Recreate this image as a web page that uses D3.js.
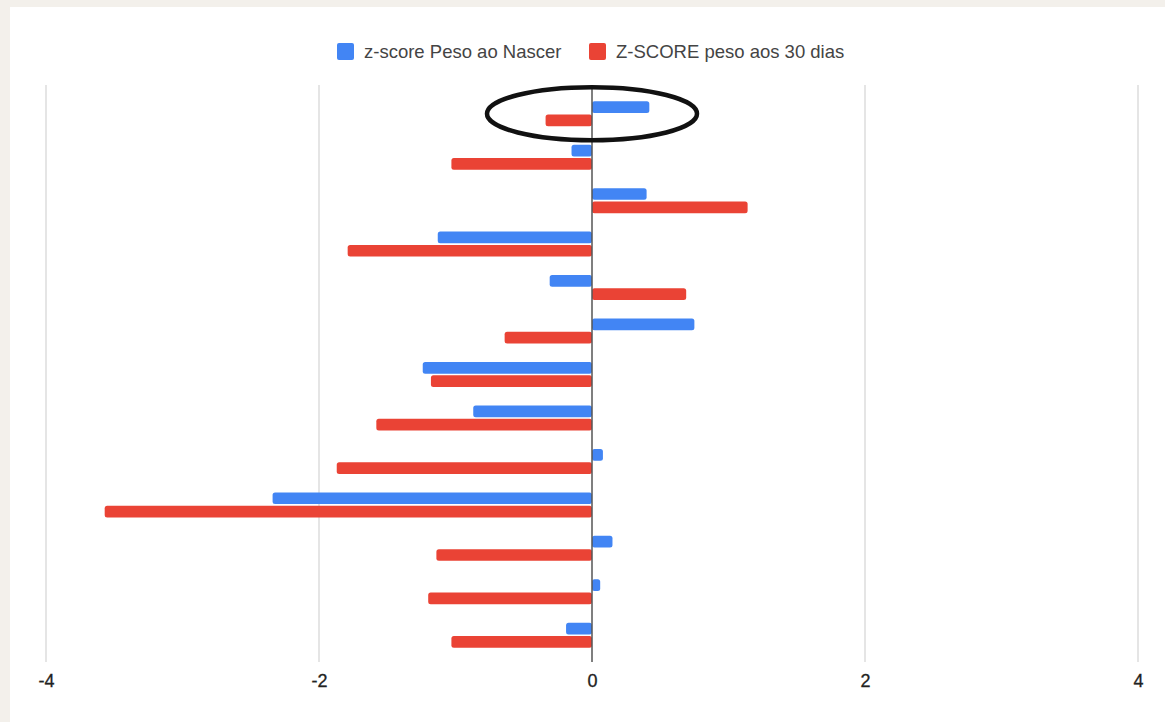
<!DOCTYPE html>
<html>
<head>
<meta charset="utf-8">
<script src="https://cdn.jsdelivr.net/npm/d3@7"></script>
<style>
  html, body { margin: 0; padding: 0; background: #f3f0eb; }
  svg { display: block; }
</style>
</head>
<body>
<svg id="chart" width="1165" height="722"></svg>
<script>
// Babies, one row each
const categories = ["1", "2", "3", "4", "5", "6", "7", "8", "9", "10", "11", "12", "13"];
const seriesNames = ["z-score Peso ao Nascer", "Z-SCORE peso aos 30 dias"];
const zBirth = [0.42, -0.15, 0.40, -1.13, -0.31, 0.75, -1.24, -0.87, 0.08, -2.34, 0.15, 0.06, -0.19];
const z30 = [-0.34, -1.03, 1.14, -1.79, 0.69, -0.64, -1.18, -1.58, -1.87, -3.57, -1.14, -1.20, -1.03];
const xTicks = [-4, -2, 0, 2, 4];
const colors = ["#4285f4", "#ea4335"];

const svg = d3.select("#chart");
const font = "Liberation Sans, Arial, sans-serif";

// white card
svg.append("rect").attr("x", 10).attr("y", 7).attr("width", 1155).attr("height", 715).attr("fill", "#fff");

const x = d3.scaleLinear().domain([-4, 4]).range([46, 1138]);
const y = d3.scaleBand().domain(categories).range([92, 657]).paddingInner(0).paddingOuter(0);
const sub = d3.scaleBand().domain([0, 1]).range([y.bandwidth() / 2 - 12.5, y.bandwidth() / 2 + 12.5]).paddingInner(0.12);

const plotTop = 85, plotBottom = 662;

// gridlines
svg.append("g").selectAll("line").data(xTicks.filter(t => t !== 0)).join("line")
  .attr("x1", d => x(d)).attr("x2", d => x(d))
  .attr("y1", plotTop).attr("y2", plotBottom)
  .attr("stroke", "#dcdcdc").attr("stroke-width", 1.5);

// tick labels via axis (plain hyphen for negatives)
const axis = svg.append("g").attr("transform", `translate(0,${plotBottom})`)
  .call(d3.axisBottom(x).tickValues(xTicks).tickSize(0).tickPadding(12).tickFormat(d => String(d)));
axis.select(".domain").remove();
axis.selectAll("text")
  .attr("font-family", font)
  .attr("font-size", 18).attr("fill", "#222")
  .attr("stroke", "#222").attr("stroke-width", 0.3);

// bars
const rows = categories.map((c, i) => ({ c, vals: [zBirth[i], z30[i]] }));
const g = svg.append("g");
rows.forEach(r => {
  r.vals.forEach((v, k) => {
    g.append("rect")
      .attr("x", Math.min(x(0), x(v)))
      .attr("y", y(r.c) + sub(k))
      .attr("width", Math.abs(x(v) - x(0)))
      .attr("height", sub.bandwidth())
      .attr("rx", 2.5)
      .attr("fill", colors[k]);
  });
});

// zero baseline
svg.append("line")
  .attr("x1", x(0)).attr("x2", x(0)).attr("y1", plotTop).attr("y2", plotBottom)
  .attr("stroke", "#555").attr("stroke-width", 1.5);

// legend
const legend = svg.append("g").attr("font-family", font).attr("font-size", 18.5).attr("fill", "#444");
const legendX = [337, 589];
seriesNames.forEach((name, k) => {
  legend.append("rect").attr("x", legendX[k]).attr("y", 43).attr("width", 17).attr("height", 17).attr("rx", 2).attr("fill", colors[k]);
  legend.append("text").attr("x", legendX[k] + 27).attr("y", 58).text(name);
});

// highlight around the first row
svg.append("ellipse")
  .attr("cx", x(0)).attr("cy", y(categories[0]) + y.bandwidth() / 2)
  .attr("rx", 105).attr("ry", 26.5)
  .attr("fill", "none").attr("stroke", "#111").attr("stroke-width", 4.5);
</script>
</body>
</html>
